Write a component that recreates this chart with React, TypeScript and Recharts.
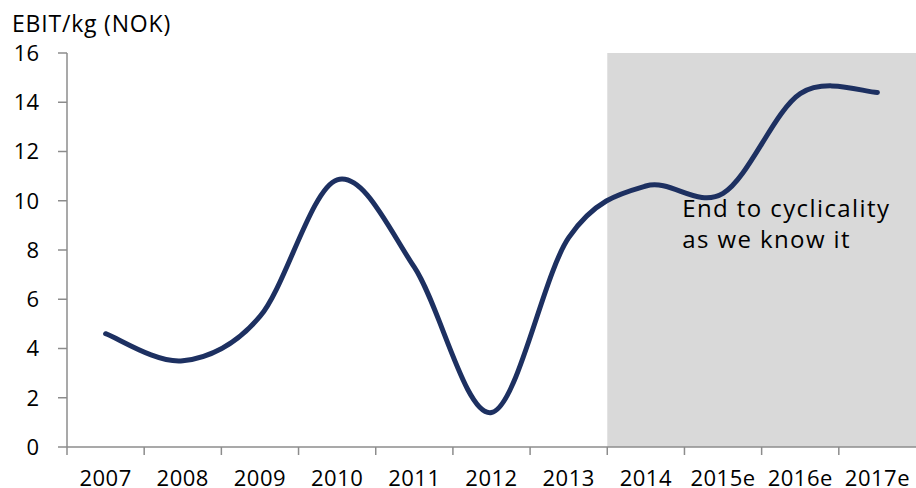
import React from 'react';
import { LineChart, Line, XAxis, YAxis, ReferenceArea } from 'recharts';

const years = ['2007', '2008', '2009', '2010', '2011', '2012', '2013', '2014', '2015e', '2016e', '2017e'];
const ebitPerKg = [4.6, 3.5, 5.3, 10.85, 7.3, 1.4, 8.5, 10.6, 10.3, 14.35, 14.4];
const yTicks = [0, 2, 4, 6, 8, 10, 12, 14, 16];

const shadeFrom = '2014';
const shadeTo = '2017e';
const noteLines = ['End to cyclicality', 'as we know it'];

const data = years.map((year, i) => ({ year, value: ebitPerKg[i] }));

const FONT = '"Open Sans", sans-serif';
const AXIS = '#8c8c8c';
const NAVY = '#1d3061';

// Catmull-Rom style smoothing (the "smoothed line" look of office charts)
const smoothCurve = (context: any) => {
  let pts: [number, number][] = [];
  return {
    areaStart() {},
    areaEnd() {},
    lineStart() {
      pts = [];
    },
    lineEnd() {
      const n = pts.length;
      if (!n) return;
      context.moveTo(pts[0][0], pts[0][1]);
      for (let i = 0; i < n - 1; i++) {
        const p0 = pts[Math.max(i - 1, 0)];
        const p1 = pts[i];
        const p2 = pts[i + 1];
        const p3 = pts[Math.min(i + 2, n - 1)];
        context.bezierCurveTo(
          p1[0] + (p2[0] - p0[0]) / 6,
          p1[1] + (p2[1] - p0[1]) / 6,
          p2[0] - (p3[0] - p1[0]) / 6,
          p2[1] - (p3[1] - p1[1]) / 6,
          p2[0],
          p2[1],
        );
      }
    },
    point(x: number, y: number) {
      pts.push([+x, +y]);
    },
  };
};

// year label centred in its band, tick mark on the band's left edge
const YearTick = (props: any) => {
  const { x, y, payload } = props;
  const half = payload.offset ?? 0;
  return (
    <g>
      <line x1={x - half} x2={x - half} y1={y - 23} y2={y - 15} stroke={AXIS} strokeWidth={1.5} />
      <text x={x} y={y} dy="0.71em" textAnchor="middle" fontFamily={FONT} fontSize={22} letterSpacing={0.5} fill="#000">
        {payload.value}
      </text>
    </g>
  );
};

const NoteLabel = (props: any) => {
  const { viewBox } = props;
  return (
    <text fontFamily={FONT} fontSize={24} letterSpacing={1.4} fill="#000">
      {noteLines.map((line, i) => (
        <tspan key={line} x={viewBox.x + 75} y={viewBox.y + 164 + i * 31}>
          {line}
        </tspan>
      ))}
    </text>
  );
};

const AxisTitle = (props: any) => {
  const { viewBox } = props;
  return (
    <text x={viewBox.x + viewBox.width - 55} y={viewBox.y - 21} fontFamily={FONT} fontSize={23} letterSpacing={0.8} fill="#000">
      EBIT/kg (NOK)
    </text>
  );
};

export default function App() {
  return (
    <div style={{ position: 'absolute', left: 0, top: 0, width: 916, height: 488, background: '#fff' }}>
      <LineChart width={916} height={488} data={data} margin={{ top: 53, right: 0, bottom: 0, left: 0 }}>
        <ReferenceArea x1={shadeFrom} x2={shadeTo} fill="#d9d9d9" fillOpacity={1} stroke="none" label={<NoteLabel />} />
        <XAxis
          dataKey="year"
          scale="band"
          height={41}
          interval={0}
          tickLine={false}
          tickSize={8}
          tickMargin={15}
          axisLine={{ stroke: AXIS, strokeWidth: 1.5 }}
          tick={<YearTick />}
        />
        <YAxis
          width={67}
          domain={[0, 16]}
          ticks={yTicks}
          interval={0}
          tickSize={9}
          tickMargin={19}
          axisLine={{ stroke: AXIS, strokeWidth: 1.5 }}
          tickLine={{ stroke: AXIS, strokeWidth: 1.5 }}
          tick={{ fontFamily: FONT, fontSize: 22, fill: '#000' }}
          label={<AxisTitle />}
        />
        <Line
          dataKey="value"
          type={smoothCurve as any}
          stroke={NAVY}
          strokeWidth={5}
          strokeLinecap="round"
          dot={false}
          activeDot={false}
          isAnimationActive={false}
        />
      </LineChart>
    </div>
  );
}
